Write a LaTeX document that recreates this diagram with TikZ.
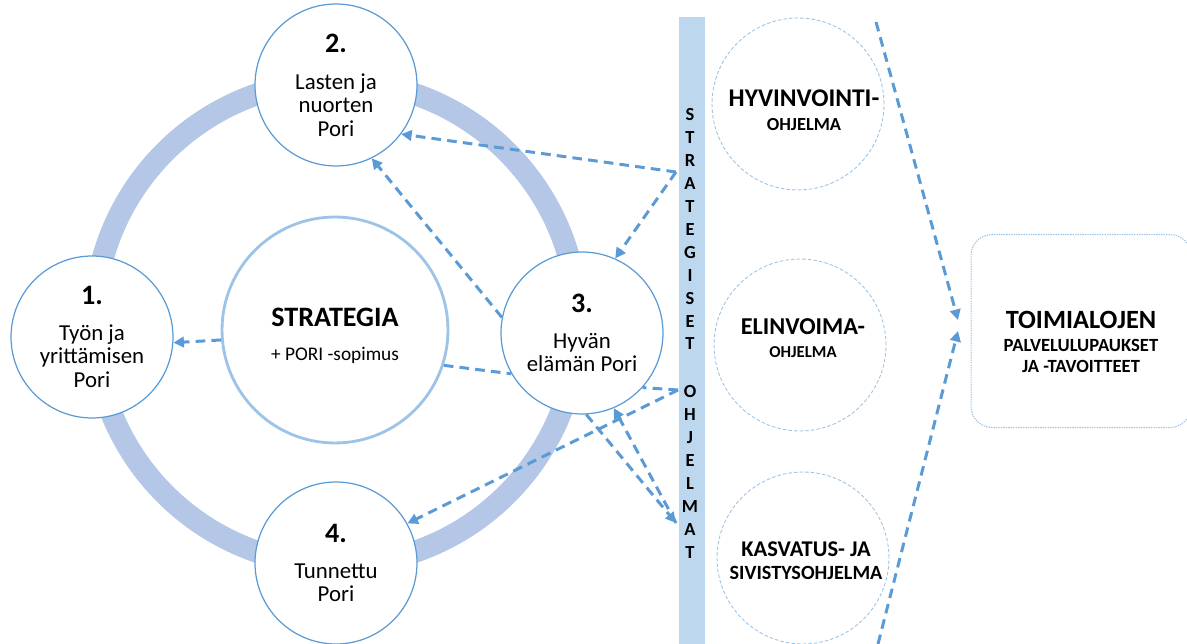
\documentclass[tikz,border=0pt]{standalone}
\usepackage{fontspec}
\setmainfont{Carlito}
\usetikzlibrary{arrows.meta,positioning}
\definecolor{ringblue}{HTML}{B4C7E7}
\definecolor{barblue}{HTML}{BDD7EE}
\definecolor{edgeblue}{HTML}{5B9BD5}
\definecolor{paleblue}{HTML}{9DC3E6}
\newcommand{\numFont}{\fontsize{16}{18}\selectfont\bfseries}
\newcommand{\bodyFont}{\fontsize{13}{13.3}\selectfont}
\newcommand{\boldAt}[1]{\fontsize{#1}{#1}\selectfont\bfseries}

\begin{document}
\begin{tikzpicture}[x=0.02cm, y=-0.02cm,
	pillar/.style={circle, draw=edgeblue, line width=0.7pt, fill=white, minimum size=3.24cm, inner sep=0pt, align=center, font=\bodyFont},
	core/.style={circle, draw=paleblue, line width=1.6pt, fill=white, minimum size=4.52cm, inner sep=0pt},
	program/.style={circle, draw=paleblue, dash pattern=on 2pt off 1.2pt, line width=0.5pt, minimum size=3.44cm, inner sep=0pt},
	progtext/.style={align=center, inner sep=0pt},
	goalbox/.style={draw=paleblue, rounded corners=12pt, dash pattern=on 0.8pt off 0.6pt, line width=0.6pt, minimum width=4.4cm, minimum height=3.86cm},
	link/.style={draw=edgeblue, line width=1.7pt, dash pattern=on 5.5pt off 3.5pt},
	linkto/.style={link, -{Triangle[length=6pt,width=6pt]}},
	letter/.style={font=\fontsize{10.5}{12}\selectfont\bfseries, inner sep=0pt}]
	\useasboundingbox (0,0) rectangle (1187,644);

	%ring behind the four pillars
	\draw[ringblue, line width=0.44cm] (336,323) circle [radius=4.84cm];

	\node[core] (strategia) at (335,330) {};
	\node[progtext] (strategiaText) at (335,336)
		{{\boldAt{16}STRATEGIA}\\[7pt]{\fontsize{11}{12}\selectfont + PORI -sopimus}};

	\node[pillar] (p1) at (92,337) {{\numFont 1.}\\[7pt]Työn ja\\yrittämisen\\Pori};
	\node[pillar] (p2) at (336,85) {{\numFont 2.}\\[8pt]Lasten ja\\nuorten\\Pori};
	\node[pillar] (p3) at (582,333) {{\numFont 3.}\\[7pt]Hyvän\\elämän Pori};
	\node[pillar] (p4) at (336,563) {{\numFont 4.}\\[7pt]Tunnettu\\Pori};

	%the bar with its letters
	\node[fill=barblue, minimum width=0.52cm, minimum height=12.54cm, inner sep=0pt] (bar) at (692,330.5) {};
	\foreach \ch [count=\i] in {S,T,R,A,T,E,G,I,S,E,T}
		\node[letter] (top\i) at (690, 115+22.9*\i-22.9) {\ch};
	\foreach \ch [count=\i] in {O,H,J,E,L,M,A,T}
		\node[letter] (bot\i) at (690, 392+23*\i-23) {\ch};

	\coordinate (barA) at (676,172);
	\coordinate (barB) at (678,390);
	\coordinate (barC) at (676,523);

	%programmes
	\node[program] (hyv) at (798,104) {};
	\node[program] (elin) at (800,345) {};
	\node[program] (kasv) at (803,558) {};
	\node[progtext] (hyvText) at (804,110) {{\boldAt{14.5}HYVINVOINTI-}\\[1.5pt]{\boldAt{10.5}OHJELMA}};
	\node[progtext] (elinText) at (803,338) {{\boldAt{13.8}ELINVOIMA-}\\[1.5pt]{\boldAt{9.5}OHJELMA}};
	\node[progtext] (kasvText) at (806,561) {{\boldAt{12.8}KASVATUS- JA}\\[1pt]{\boldAt{11.5}SIVISTYSOHJELMA}};

	\node[goalbox] (goal) at (1081,331) {};
	\node[progtext] (goalText) at (1081,342)
		{{\boldAt{15}TOIMIALOJEN}\\[1.5pt]{\boldAt{10.6}PALVELULUPAUKSET}\\[0pt]{\boldAt{10.6}JA -TAVOITTEET}};

	\coordinate (flowTop) at (876,22);
	\coordinate (flowBottom) at (878,644);
	\coordinate (goalInA) at (958,320);
	\coordinate (goalInB) at (958,331);

	%connectors
	\draw[linkto] (barA) -- (p2.-37);
	\draw[linkto] (barA) -- (p3.66);
	\draw[linkto] (p3.169) -- (p2.-64);
	\draw[linkto] (strategia.185) -- (p1.-4);
	\draw[link] (strategia.-18) -- (p3.210);
	\draw[link] (barB) -- (p3.-42);
	\draw[linkto] (barB) -- (p4.29);
	\draw[linkto] (barC) -- (p3.-67);
	\draw[linkto] (p3.-87) -- (barC);
	\draw[linkto] (flowTop) -- (goalInA);
	\draw[linkto] (flowBottom) -- (goalInB);
\end{tikzpicture}
\end{document}
